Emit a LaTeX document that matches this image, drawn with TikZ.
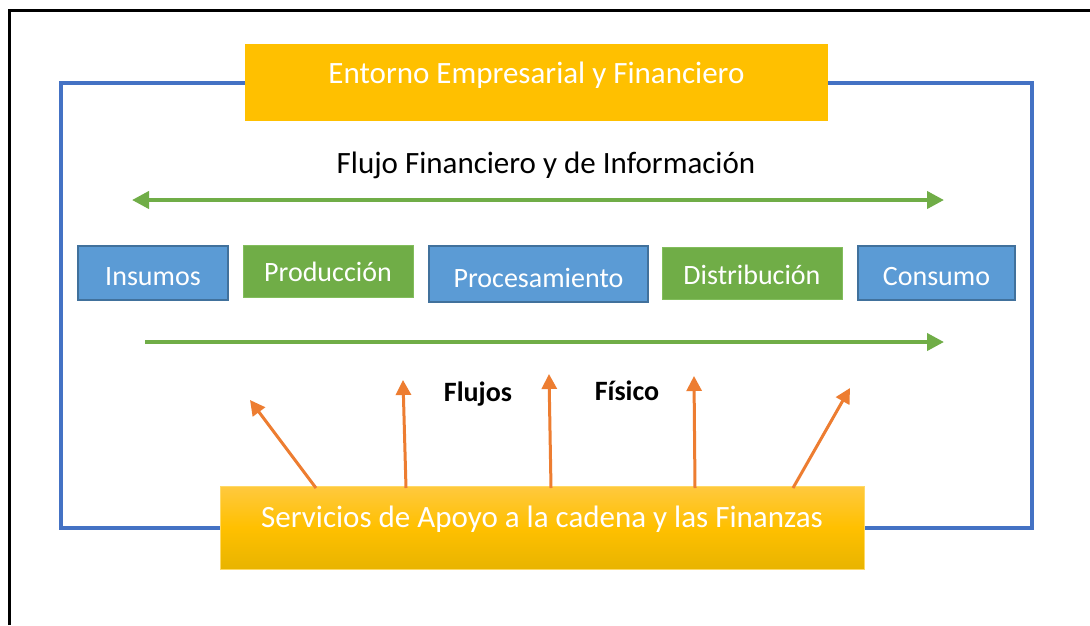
\documentclass[tikz,border=0pt]{standalone}
\usepackage{fontspec}
\setmainfont{Carlito}
\usetikzlibrary{arrows.meta}
\definecolor{gold}{HTML}{FFC000}
\definecolor{goldtop}{HTML}{FFC93F}
\definecolor{goldbot}{HTML}{E8B400}
\definecolor{goldedge}{HTML}{FFD966}
\definecolor{bluefill}{HTML}{5B9BD5}
\definecolor{blueedge}{HTML}{41719C}
\definecolor{greenfill}{HTML}{70AD47}
\definecolor{greenedge}{HTML}{82BD5C}
\definecolor{lineblue}{HTML}{4472C4}
\definecolor{orangeline}{HTML}{ED7D31}
\tikzset{
  bigtext/.style={font=\fontsize{31}{36}\selectfont},
  boxtext/.style={font=\fontsize{28}{32}\selectfont, text=white, text height=24pt, text depth=0pt},
  bluebox/.style={boxtext, fill=bluefill, draw=blueedge, line width=2pt, inner sep=0pt},
  greenbox/.style={boxtext, fill=greenfill, draw=greenedge, line width=0.8pt, inner sep=0pt},
  connline/.style={draw=lineblue, line width=4pt},
  greenarrow/.style={draw=greenfill, line width=4pt, -{Triangle[length=17pt,width=17pt]}},
  greenarrows/.style={draw=greenfill, line width=4pt, {Triangle[length=17pt,width=17pt]}-{Triangle[length=17pt,width=17pt]}},
  orangearrow/.style={draw=orangeline, line width=3pt, -{Triangle[length=15pt,width=15pt]}},
  flowlabel/.style={font=\fontsize{28}{32}\selectfont\bfseries, text height=18pt, text depth=0pt, inner sep=0pt},
}
\begin{document}
\begin{tikzpicture}[x=1pt,y=-1pt]
\useasboundingbox (0,0) rectangle (1090,625);
\fill[white] (0,0) rectangle (1090,625);
% outer frame (right and bottom edges lie outside the picture)
\draw[black, line width=3pt] (9.5,625) -- (9.5,10) -- (1090,10);

% top and bottom boxes
\node[bigtext, text=white, fill=gold, minimum width=583pt, minimum height=77pt, inner sep=0pt, text height=20pt, text depth=19pt] (top) at (536.5,82.5) {Entorno Empresarial y Financiero};
\node[bigtext, text=white, top color=goldtop, bottom color=goldbot, middle color=gold, draw=goldedge, line width=1pt, minimum width=644pt, minimum height=83pt, inner sep=0pt, text height=20pt, text depth=21pt] (bot) at (542,527.5) {Servicios de Apoyo a la cadena y las Finanzas};

% blue loop
\coordinate (lc) at (61,0);
\coordinate (rc) at (1032,0);
\draw[connline] (top.west) -| (lc |- bot.west) -- (bot.west);
\draw[connline] (top.east) -| (rc |- bot.east) -- (bot.east);

% title
\node[bigtext, text height=20pt, text depth=0pt, inner sep=0pt] (title) at (546,163) {Flujo Financiero y de Información};

% chain boxes
\node[bluebox, minimum width=150pt, minimum height=54pt] (ins) at (153,273) {Insumos};
\node[greenbox, minimum width=170pt, minimum height=52pt, text height=21pt] (prod) at (328,271) {Producción};
\node[bluebox, minimum width=219pt, minimum height=56pt, text height=26pt] (proc) at (538.5,274) {Procesamiento};
\node[greenbox, minimum width=180pt, minimum height=52pt, text height=23pt] (dist) at (752,273) {Distribución};
\node[bluebox, minimum width=157pt, minimum height=54pt] (cons) at (936.5,273) {Consumo};

% green arrows
\coordinate (fa) at (132,200);
\coordinate (fb) at (944,200);
\draw[greenarrows] (fa) -- (fb);
\coordinate (pa) at (145,342);
\coordinate (pb) at (944,342);
\draw[greenarrow] (pa) -- (pb);

% labels
\node[flowlabel] (flujos) at (478,392.5) {Flujos};
\node[flowlabel] (fisico) at (627,391.7) {Físico};

% orange arrows
\coordinate (s1) at (316,488);
\coordinate (s2) at (406,488);
\coordinate (s3) at (551,488);
\coordinate (s4) at (695,488);
\coordinate (s5) at (793,488);
\coordinate (e1) at (250,400);
\coordinate (e2) at (403,380);
\coordinate (e3) at (549,374);
\coordinate (e4) at (694,376);
\coordinate (e5) at (850,388);
\draw[orangearrow] (s1) -- (e1);
\draw[orangearrow] (s2) -- (e2);
\draw[orangearrow] (s3) -- (e3);
\draw[orangearrow] (s4) -- (e4);
\draw[orangearrow] (s5) -- (e5);
\end{tikzpicture}
\end{document}
